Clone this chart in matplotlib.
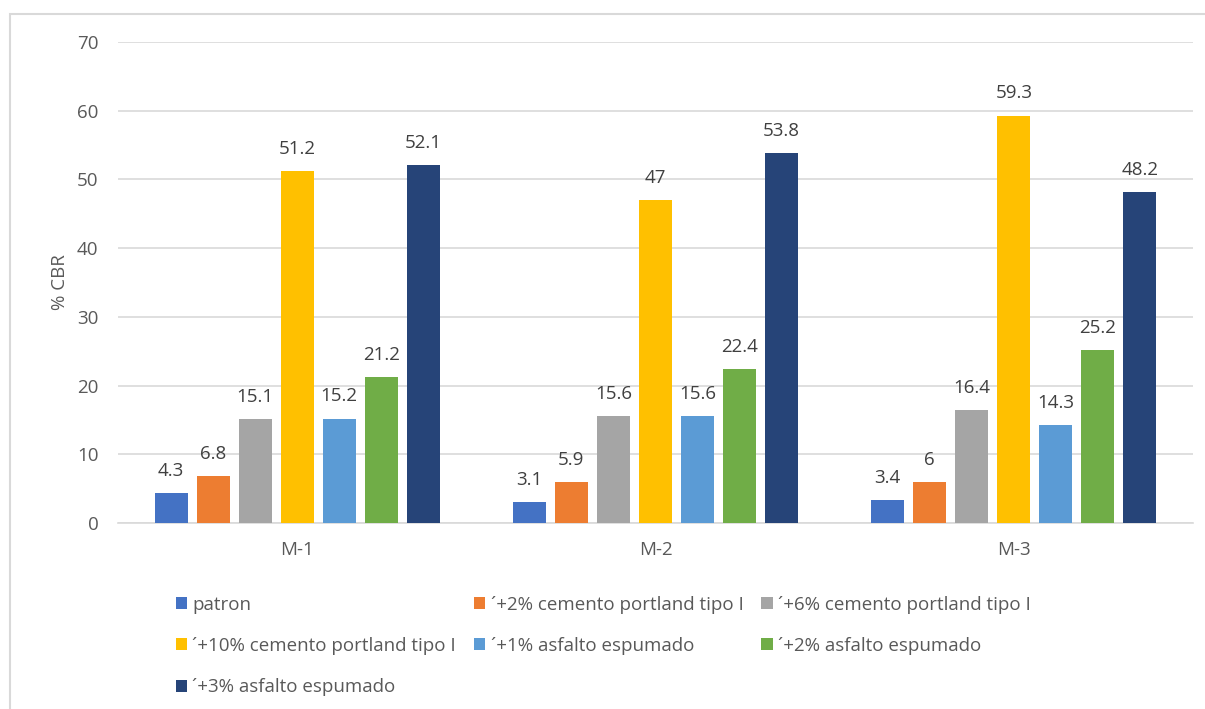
import numpy as np
import matplotlib.pyplot as plt
from matplotlib.patches import Rectangle

# --- datos ---
muestras = ["M-1", "M-2", "M-3"]
series = [
    "patron",
    "´+2% cemento portland tipo I",
    "´+6% cemento portland tipo I",
    "´+10% cemento portland tipo I",
    "´+1% asfalto espumado",
    "´+2% asfalto espumado",
    "´+3% asfalto espumado",
]
patron = [4.3, 3.1, 3.4]
cemento_2 = [6.8, 5.9, 6]
cemento_6 = [15.1, 15.6, 16.4]
cemento_10 = [51.2, 47, 59.3]
asfalto_1 = [15.2, 15.6, 14.3]
asfalto_2 = [21.2, 22.4, 25.2]
asfalto_3 = [52.1, 53.8, 48.2]
valores = [patron, cemento_2, cemento_6, cemento_10, asfalto_1, asfalto_2, asfalto_3]

colores = ["#4472c4", "#ed7d31", "#a5a5a5", "#ffc000", "#5b9bd5", "#70ad47", "#264478"]

plt.rcParams["font.family"] = ["Open Sans", "DejaVu Sans"]
gris_texto = "#595959"

fig = plt.figure(figsize=(12.05, 7.09), dpi=100)
W, H = 1205, 709
ax = fig.add_axes([118 / W, 1 - 523 / H, (1193 - 118) / W, (523 - 42) / H])

# marco exterior del gráfico
fig.patches.append(Rectangle((10 / W, -0.1), 1.2, 1 - 14 / H + 0.1,
                             transform=fig.transFigure, fill=False,
                             edgecolor="#d9d9d9", linewidth=1.5))

x = np.arange(len(muestras))
paso = 42 / 358
ancho = 33 / 358
barras = []
for i, (vals, col) in enumerate(zip(valores, colores)):
    pos = x + (i - 3) * paso
    b = ax.bar(pos, vals, width=ancho, color=col, label=series[i], zorder=3)
    barras.append(b)
    for xi, v in zip(pos, vals):
        ax.text(xi, v + 1.9, f"{v:g}", ha="center", va="bottom",
                fontsize=13.5, color="#404040")

ax.set_xlim(-0.5, 2.5)
ax.set_ylim(0, 70)
ax.set_yticks(range(0, 71, 10))
ax.set_xticks(x)
ax.set_xticklabels(muestras)
ax.grid(axis="y", color="#d9d9d9", linewidth=1.2, zorder=0)
ax.set_axisbelow(True)
for s in ["top", "right", "left"]:
    ax.spines[s].set_visible(False)
ax.spines["bottom"].set_color("#d9d9d9")
ax.spines["bottom"].set_linewidth(1.2)
ax.tick_params(axis="both", length=0, labelsize=13.5, colors=gris_texto)
ax.tick_params(axis="y", pad=14)
ax.tick_params(axis="x", pad=13)
ax.set_ylabel("% CBR", fontsize=13.5, color=gris_texto, labelpad=6)

# leyenda en tres columnas, llenada por filas
orden = [0, 3, 6, 1, 4, 2, 5]
fig.legend([barras[i] for i in orden], [series[i] for i in orden],
           loc="upper left", bbox_to_anchor=(168 / W, 1 - 588 / H),
           ncol=3, frameon=False, fontsize=13.5, labelcolor=gris_texto,
           handlelength=0.6, handleheight=0.6, handletextpad=0.3,
           columnspacing=0.95, labelspacing=1.25, borderaxespad=0)

fig.savefig("out.png", dpi=100, facecolor="white")
